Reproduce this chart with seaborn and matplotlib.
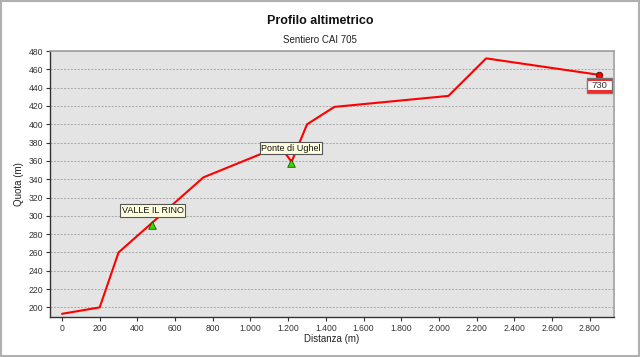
import matplotlib
matplotlib.use("Agg")
import matplotlib.pyplot as plt
import matplotlib.ticker as mticker
import matplotlib.transforms as mtransforms
from matplotlib.patches import Rectangle
import seaborn as sns
import pandas as pd

# data
distance = [0, 200, 300, 750, 1060, 1175, 1218, 1300, 1445, 2050, 2250, 2850]
altitude = [193, 200, 260, 342, 368, 371, 359, 400, 419, 431, 472, 454]
waypoint_names = ["VALLE IL RINO", "Ponte di Ughel"]
waypoint_x = [480, 1215]
waypoint_y = [290, 358]
end_label = "730"

x_ticks = list(range(0, 2801, 200))
y_ticks = list(range(200, 481, 20))

sns.set_style("white")
plt.rcParams['font.family'] = ['Liberation Sans', 'DejaVu Sans']

fig = plt.figure(figsize=(6.4, 3.57), dpi=100)
fig.patch.set_facecolor("white")
fig.add_artist(Rectangle((0.001, 0.002), 0.997, 0.995, transform=fig.transFigure,
                         fill=False, edgecolor="#b0b0b0", linewidth=1.5))
ax = fig.add_axes([0.078, 0.112, 0.881, 0.745])
ax.set_facecolor("#e4e4e4")

df = pd.DataFrame({"d": distance, "q": altitude})
sns.lineplot(data=df, x="d", y="q", ax=ax, color="#ff0000", linewidth=1.5, sort=False)

wp = pd.DataFrame({"d": waypoint_x, "q": waypoint_y})
sns.scatterplot(data=wp, x="d", y="q", ax=ax, marker="^", s=30, color="#33dd00",
                edgecolor="#205000", linewidth=0.6, zorder=5)
ax.scatter([distance[-1]], [altitude[-1]], s=22, color="#ff0000", edgecolor="#600000",
           linewidth=0.6, zorder=6)

for name, xx, yy in zip(waypoint_names, waypoint_x, waypoint_y):
    ax.annotate(name, (xx, yy), xytext=(0, 10.5), textcoords="offset points",
                ha="center", va="center", fontsize=6.5, zorder=7, color="#111111",
                bbox=dict(boxstyle="square,pad=0.18", facecolor="#ffffe0",
                          edgecolor="#555555", linewidth=0.8))

ax.set_xlim(-64, 2927)
ax.set_ylim(189.5, 480)

# end label box (offsets in inches from the end point)
tr = fig.dpi_scale_trans + mtransforms.ScaledTranslation(distance[-1], altitude[-1], ax.transData)
ax.add_artist(Rectangle((-0.12, -0.185), 0.25, 0.15, transform=tr, facecolor="white",
                        edgecolor="#777777", linewidth=1.0, zorder=7, clip_on=False))
ax.add_artist(Rectangle((-0.115, -0.065), 0.24, 0.025, transform=tr, facecolor="#e83030",
                        edgecolor="none", zorder=8, clip_on=False))
ax.add_artist(Rectangle((-0.115, -0.18), 0.24, 0.025, transform=tr, facecolor="#e83030",
                        edgecolor="none", zorder=8, clip_on=False))
ax.text(0.005, -0.111, end_label, transform=tr, ha="center", va="center",
        fontsize=6.8, color="#333333", zorder=9)

ax.set_xticks(x_ticks)
ax.set_yticks(y_ticks)
ax.xaxis.set_major_formatter(mticker.FuncFormatter(lambda v, p: f"{int(v):,}".replace(",", ".")))
ax.tick_params(axis="both", labelsize=6.2, length=3, width=0.8, color="#333333",
               labelcolor="#333333", direction="out", left=True, bottom=True, pad=2)
ax.yaxis.grid(True, linestyle=(0, (2, 1.5)), color="#a8a8a8", linewidth=0.7)
ax.xaxis.grid(False)
ax.set_axisbelow(True)

for s in ["top", "right"]:
    ax.spines[s].set_color("#a0a0a0")
    ax.spines[s].set_linewidth(1.2)
for s in ["left", "bottom"]:
    ax.spines[s].set_color("#333333")
    ax.spines[s].set_linewidth(1.0)

ax.set_xlabel("Distanza (m)", fontsize=7, color="#222222", labelpad=1)
ax.set_ylabel("Quota (m)", fontsize=7, color="#222222", labelpad=3)

fig.text(0.5, 0.94, "Profilo altimetrico", ha="center", va="center",
         fontsize=9, fontweight="bold", color="#111111")
fig.text(0.5, 0.888, "Sentiero CAI 705", ha="center", va="center",
         fontsize=7, color="#222222")

fig.savefig("out.png", dpi=100, facecolor="white")
